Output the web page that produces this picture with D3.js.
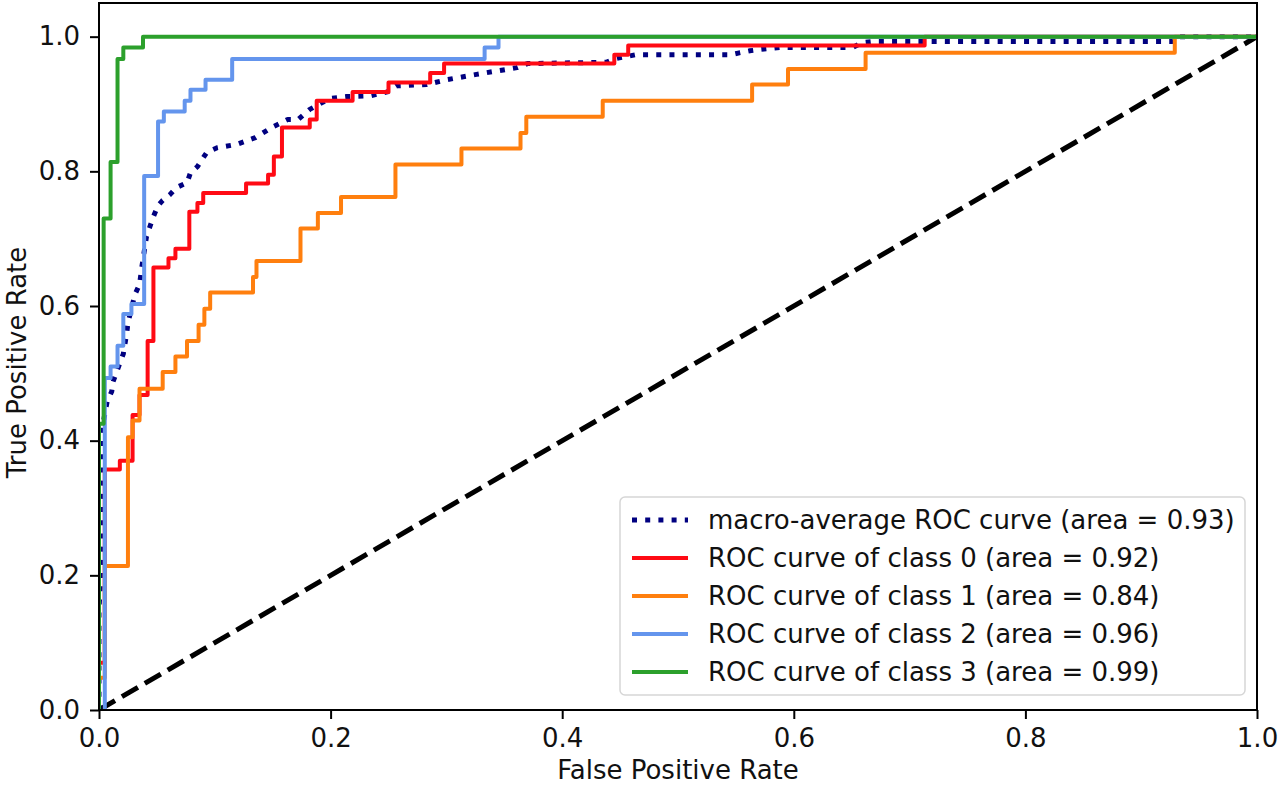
<!DOCTYPE html>
<html>
<head>
<meta charset="utf-8">
<script src="https://cdn.jsdelivr.net/npm/d3@7"></script>
<style>
  body { margin: 0; background: #fff; }
  text { font-family: "DejaVu Sans", sans-serif; }
</style>
</head>
<body>
<script>
width = 1280
height = 787
margin = ({top: 3, right: 23, bottom: 77, left: 99})
fontSize = 26

// ROC corner points (fpr, tpr)
fpr0 = [0, 0, 0.005, 0.005, 0.018, 0.018, 0.029, 0.029, 0.035, 0.035, 0.042, 0.042, 0.047, 0.047, 0.060, 0.060, 0.066, 0.066, 0.078, 0.078, 0.085, 0.085, 0.090, 0.090, 0.127, 0.127, 0.146, 0.146, 0.151, 0.151, 0.158, 0.158, 0.182, 0.182, 0.188, 0.188, 0.219, 0.219, 0.250, 0.250, 0.286, 0.286, 0.298, 0.298, 0.445, 0.445, 0.457, 0.457, 0.713, 0.713, 1]
tpr0 = [0, 0.070, 0.070, 0.357, 0.357, 0.370, 0.370, 0.438, 0.438, 0.468, 0.468, 0.548, 0.548, 0.657, 0.657, 0.671, 0.671, 0.685, 0.685, 0.740, 0.740, 0.753, 0.753, 0.768, 0.768, 0.782, 0.782, 0.795, 0.795, 0.822, 0.822, 0.865, 0.865, 0.877, 0.877, 0.905, 0.905, 0.918, 0.918, 0.932, 0.932, 0.946, 0.946, 0.960, 0.960, 0.973, 0.973, 0.987, 0.987, 1, 1]

fpr1 = [0, 0, 0.005, 0.005, 0.025, 0.025, 0.029, 0.029, 0.035, 0.035, 0.055, 0.055, 0.066, 0.066, 0.076, 0.076, 0.086, 0.086, 0.091, 0.091, 0.096, 0.096, 0.133, 0.133, 0.136, 0.136, 0.174, 0.174, 0.189, 0.189, 0.209, 0.209, 0.256, 0.256, 0.313, 0.313, 0.364, 0.364, 0.369, 0.369, 0.435, 0.435, 0.564, 0.564, 0.595, 0.595, 0.662, 0.662, 0.929, 0.929, 1]
tpr1 = [0, 0.048, 0.048, 0.214, 0.214, 0.405, 0.405, 0.430, 0.430, 0.477, 0.477, 0.502, 0.502, 0.525, 0.525, 0.548, 0.548, 0.572, 0.572, 0.596, 0.596, 0.620, 0.620, 0.643, 0.643, 0.667, 0.667, 0.715, 0.715, 0.738, 0.738, 0.762, 0.762, 0.810, 0.810, 0.834, 0.834, 0.857, 0.857, 0.881, 0.881, 0.905, 0.905, 0.929, 0.929, 0.952, 0.952, 0.976, 0.976, 1, 1]

fpr2 = [0.005, 0.005, 0.010, 0.010, 0.016, 0.016, 0.021, 0.021, 0.028, 0.028, 0.039, 0.039, 0.051, 0.051, 0.056, 0.056, 0.074, 0.074, 0.079, 0.079, 0.092, 0.092, 0.115, 0.115, 0.333, 0.333, 0.345, 0.345, 1]
tpr2 = [0, 0.493, 0.493, 0.510, 0.510, 0.541, 0.541, 0.588, 0.588, 0.603, 0.603, 0.793, 0.793, 0.874, 0.874, 0.889, 0.889, 0.905, 0.905, 0.921, 0.921, 0.936, 0.936, 0.967, 0.967, 0.984, 0.984, 1, 1]

fpr3 = [0, 0, 0.004, 0.004, 0.010, 0.010, 0.016, 0.016, 0.021, 0.021, 0.038, 0.038, 1]
tpr3 = [0, 0.425, 0.425, 0.730, 0.730, 0.814, 0.814, 0.967, 0.967, 0.984, 0.984, 1, 1]

fprMacro = [0, 0, 0.001, 0.004, 0.007, 0.011, 0.012, 0.021, 0.024, 0.025, 0.031, 0.035, 0.037, 0.041, 0.044, 0.047, 0.051, 0.055, 0.061, 0.067, 0.076, 0.079, 0.085, 0.093, 0.102, 0.119, 0.135, 0.150, 0.163, 0.172, 0.182, 0.199, 0.214, 0.234, 0.249, 0.257, 0.283, 0.300, 0.326, 0.361, 0.370, 0.438, 0.445, 0.463, 0.545, 0.553, 0.562, 0.571, 0.588, 0.651, 0.659, 0.670, 0.927, 0.930, 1]
tprMacro = [0, 0.150, 0.180, 0.430, 0.458, 0.473, 0.487, 0.529, 0.560, 0.575, 0.617, 0.632, 0.658, 0.703, 0.718, 0.733, 0.749, 0.757, 0.765, 0.776, 0.783, 0.798, 0.807, 0.828, 0.835, 0.840, 0.850, 0.866, 0.877, 0.877, 0.892, 0.908, 0.911, 0.912, 0.918, 0.927, 0.929, 0.936, 0.944, 0.954, 0.960, 0.962, 0.967, 0.973, 0.973, 0.976, 0.979, 0.981, 0.984, 0.984, 0.991, 0.993, 0.993, 1, 1]

series = [
  {label: "macro-average ROC curve (area = 0.93)", fpr: fprMacro, tpr: tprMacro, color: "navy", width: 5, dash: "5,8.2"},
  {label: "ROC curve of class 0 (area = 0.92)", fpr: fpr0, tpr: tpr0, color: "#ff0a14", width: 4, dash: null},
  {label: "ROC curve of class 1 (area = 0.84)", fpr: fpr1, tpr: tpr1, color: "#ff7f0e", width: 4, dash: null},
  {label: "ROC curve of class 2 (area = 0.96)", fpr: fpr2, tpr: tpr2, color: "#6495ed", width: 4, dash: null},
  {label: "ROC curve of class 3 (area = 0.99)", fpr: fpr3, tpr: tpr3, color: "#2ca02c", width: 4, dash: null}
]

tickValues = [0, 0.2, 0.4, 0.6, 0.8, 1.0]

x = d3.scaleLinear()
  .domain([0, 1])
  .range([margin.left, width - margin.right])

y = d3.scaleLinear()
  .domain([0, 1.05])
  .range([height - margin.bottom, margin.top])

const svg = d3.select("body").append("svg")
  .attr("width", width)
  .attr("height", height)

svg.append("defs").append("clipPath")
  .attr("id", "plot")
  .append("rect")
  .attr("x", margin.left)
  .attr("y", margin.top)
  .attr("width", width - margin.left - margin.right)
  .attr("height", height - margin.top - margin.bottom)

line = d3.line()
  .x(d => x(d[0]))
  .y(d => y(d[1]))

const plot = svg.append("g").attr("clip-path", "url(#plot)")

// chance diagonal
plot.append("path")
  .attr("d", line([[0, 0], [1, 1]]))
  .attr("fill", "none")
  .attr("stroke", "black")
  .attr("stroke-width", 5)
  .attr("stroke-dasharray", "18.5,8")

series.forEach(s => {
  plot.append("path")
    .attr("d", line(s.fpr.map((f, i) => [f, s.tpr[i]])))
    .attr("fill", "none")
    .attr("stroke", s.color)
    .attr("stroke-width", s.width)
    .attr("stroke-linejoin", "round")
    .attr("stroke-dasharray", s.dash)
})

// frame
svg.append("rect")
  .attr("x", margin.left)
  .attr("y", margin.top)
  .attr("width", width - margin.left - margin.right)
  .attr("height", height - margin.top - margin.bottom)
  .attr("fill", "none")
  .attr("stroke", "black")
  .attr("stroke-width", 2)

xAxis = g => g
  .attr("transform", `translate(0,${height - margin.bottom})`)
  .call(d3.axisBottom(x).tickValues(tickValues).tickFormat(d3.format(".1f")).tickSize(9).tickPadding(10))
  .call(g => g.select(".domain").remove())

yAxis = g => g
  .attr("transform", `translate(${margin.left},0)`)
  .call(d3.axisLeft(y).tickValues(tickValues).tickFormat(d3.format(".1f")).tickSize(9).tickPadding(10))
  .call(g => g.select(".domain").remove())

svg.append("g").call(xAxis)
svg.append("g").call(yAxis)

svg.selectAll(".tick line").attr("stroke", "black").attr("stroke-width", 2)
svg.selectAll(".tick text")
  .attr("font-family", "DejaVu Sans")
  .attr("font-size", fontSize)
  .attr("fill", "#111")

svg.append("text")
  .attr("x", (margin.left + width - margin.right) / 2)
  .attr("y", 779)
  .attr("text-anchor", "middle")
  .attr("font-size", fontSize)
  .attr("fill", "#111")
  .text("False Positive Rate")

svg.append("text")
  .attr("transform", `translate(26,${(margin.top + height - margin.bottom) / 2 + 6}) rotate(-90)`)
  .attr("text-anchor", "middle")
  .attr("font-size", fontSize)
  .attr("fill", "#111")
  .text("True Positive Rate")

// legend
legend = svg => {
  svg.append("rect")
    .attr("x", 620)
    .attr("y", 497)
    .attr("width", 625)
    .attr("height", 198)
    .attr("rx", 5)
    .attr("fill", "white")
    .attr("fill-opacity", 0.8)
    .attr("stroke", "#d6d6d6")
    .attr("stroke-width", 1.5)

  const g = svg.selectAll("g.item")
    .data(series)
    .join("g")
    .attr("class", "item")
    .attr("transform", (d, i) => `translate(632,${520 + i * 38})`)

  g.append("line")
    .attr("x1", 0)
    .attr("x2", 56)
    .attr("stroke", d => d.color)
    .attr("stroke-width", d => d.width)
    .attr("stroke-dasharray", d => d.dash)

  g.append("text")
    .attr("x", 76)
    .attr("dy", "0.35em")
    .attr("font-size", fontSize)
    .attr("fill", "#111")
    .text(d => d.label)
}

svg.append("g").call(legend)
</script>
</body>
</html>
